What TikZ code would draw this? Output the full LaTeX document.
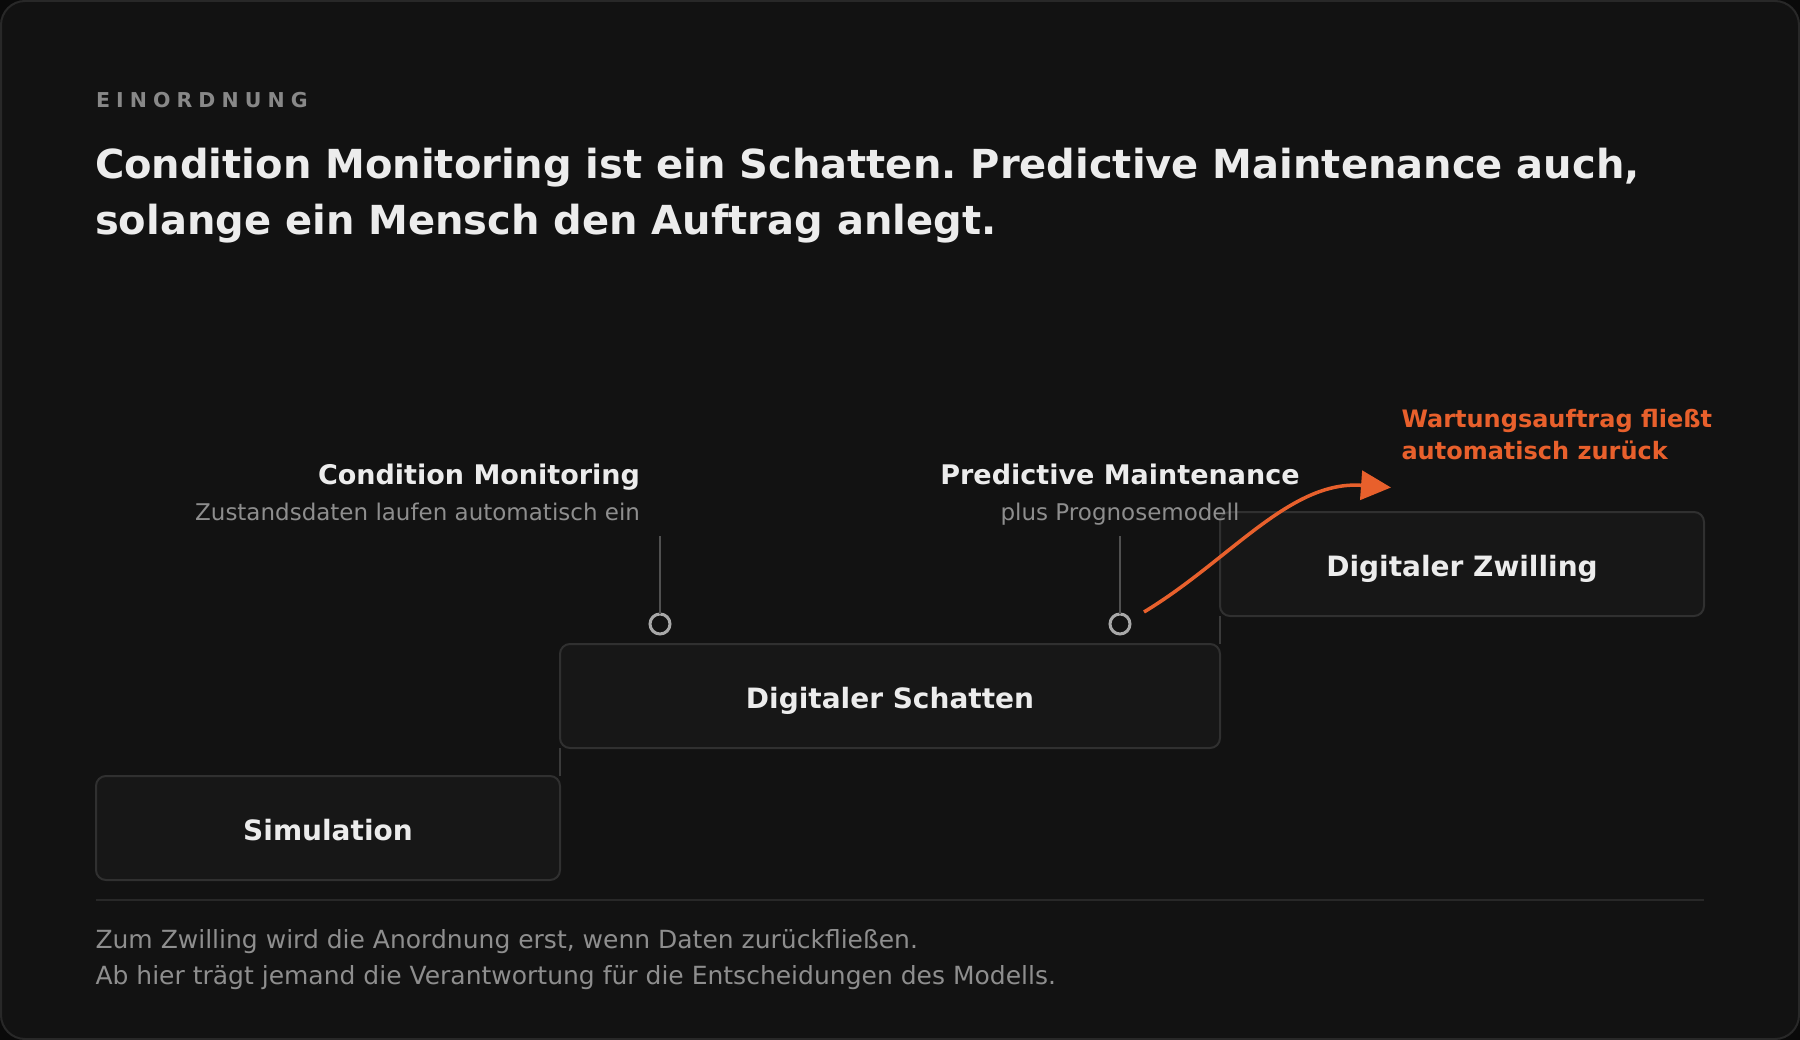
\documentclass[tikz,border=0pt]{standalone}
\usepackage{fontspec}
\setmainfont{DejaVu Sans}
\usetikzlibrary{arrows.meta}
\frenchspacing
\definecolor{pagebg}{HTML}{0A0A0A}
\definecolor{framebg}{HTML}{121212}
\definecolor{framebd}{HTML}{282828}
\definecolor{boxbg}{HTML}{171717}
\definecolor{boxbd}{HTML}{303030}
\definecolor{titlecol}{HTML}{ECECEC}
\definecolor{mutedcol}{HTML}{8E8E8E}
\definecolor{eyebrowcol}{HTML}{888888}
\definecolor{stemcol}{HTML}{505050}
\definecolor{linkcol}{HTML}{3A3A3A}
\definecolor{dotcol}{HTML}{A8A8A8}
\definecolor{accent}{HTML}{E8602C}
\begin{document}
\begin{tikzpicture}[x=1pt,y=-1pt,
  txt/.style={inner sep=0pt, outer sep=0pt},
  eyebrow/.style={txt, text=eyebrowcol, font=\fontsize{20.5}{24}\selectfont\bfseries},
  headline/.style={txt, text=titlecol, font=\fontsize{40}{56}\selectfont\bfseries},
  boxtext/.style={txt, text=titlecol, font=\fontsize{28}{34}\selectfont\bfseries},
  stagelabel/.style={txt, text=titlecol, font=\fontsize{27}{32}\selectfont\bfseries},
  stagesub/.style={txt, text=mutedcol, font=\fontsize{23}{28}\selectfont},
  note/.style={txt, text=accent, font=\fontsize{24}{32}\selectfont\bfseries},
  footer/.style={txt, text=mutedcol, font=\fontsize{25}{36}\selectfont},
  stagebox/.style={draw=boxbd, fill=boxbg, line width=2pt, rounded corners=10pt,
    inner sep=0pt, outer sep=0pt, rectangle},
  dot/.style={circle, draw=dotcol, fill=framebg, line width=3pt, minimum size=20pt,
    inner sep=0pt, outer sep=0pt},
  stem/.style={draw=stemcol, line width=1.5pt},
  link/.style={draw=linkcol, line width=1.5pt},
  accentarrow/.style={draw=accent, line width=3.5pt,
    -{Triangle[length=30pt, width=29pt]}}
]
\useasboundingbox (0,0) rectangle (1800,1040);
\fill[pagebg] (0,0) rectangle (1800,1040);
\draw[draw=framebd, fill=framebg, line width=2pt, rounded corners=24pt] (1,1) rectangle (1799,1039);

% header
\node[eyebrow, anchor=base west] (eyebrow) at (96,107.3)
  {E\kern6.1pt I\kern6.1pt N\kern6.1pt O\kern6.1pt R\kern6.1pt D\kern6.1pt N\kern6.1pt U\kern6.1pt N\kern6.1pt G};
\node[headline, anchor=base west] (title1) at (95,178.5)
  {Condition Monitoring ist ein Schatten. Predictive Maintenance auch,};
\node[headline, anchor=base west] (title2) at (95,234.8)
  {solange ein Mensch den Auftrag anlegt.};

% boxes
\node[stagebox, minimum width=464pt, minimum height=104pt] (sim) at (328,828) {};
\node[stagebox, minimum width=660pt, minimum height=104pt] (shadow) at (890,696) {};
\node[stagebox, minimum width=484pt, minimum height=104pt] (twin) at (1462,564) {};
\node[boxtext, anchor=base] (simtext) at (328,840) {Simulation};
\node[boxtext, anchor=base] (shadowtext) at (890,708) {Digitaler Schatten};
\node[boxtext, anchor=base] (twintext) at (1462,576) {Digitaler Zwilling};

% step connectors
\draw[link] (sim.north east) -- (shadow.south west);
\draw[link] (shadow.north east) -- (twin.south west);

% stage markers
\node[stagelabel, anchor=base east] (cmlabel) at (640,485) {Condition Monitoring};
\node[stagesub, anchor=base east] (cmsub) at (640,520.5) {Zustandsdaten laufen automatisch ein};
\node[stagelabel, anchor=base] (pmlabel) at (1120,485) {Predictive Maintenance};
\node[stagesub, anchor=base] (pmsub) at (1120,520.5) {plus Prognosemodell};

\node[dot] (cmdot) at (660,624) {};
\node[dot] (pmdot) at (1120,624) {};
\coordinate (cmstem) at (660,536);
\coordinate (pmstem) at (1120,536);
\draw[stem] (cmstem) -- (cmdot.north);
\draw[stem] (pmstem) -- (pmdot.north);

% feedback arrow
\coordinate (arrS) at (1144,612);
\coordinate (arrE) at (1391,487.5);
\draw[accentarrow] (arrS) .. controls (1230,560) and (1290,480) .. (arrE);
\node[note, anchor=base west] (note1) at (1401.5,427.5) {Wartungsauftrag fließt};
\node[note, anchor=base west] (note2) at (1401.5,460) {automatisch zurück};

% footer
\coordinate (divL) at (96,900);
\coordinate (divR) at (1704,900);
\draw[draw=framebd, line width=1.5pt] (divL) -- (divR);
\node[footer, anchor=base west] (foot1) at (95.5,948)
  {Zum Zwilling wird die Anordnung erst, wenn Daten zurückfließen.};
\node[footer, anchor=base west] (foot2) at (95.5,984)
  {Ab hier trägt jemand die Verantwortung für die Entscheidungen des Modells.};
\end{tikzpicture}
\end{document}
